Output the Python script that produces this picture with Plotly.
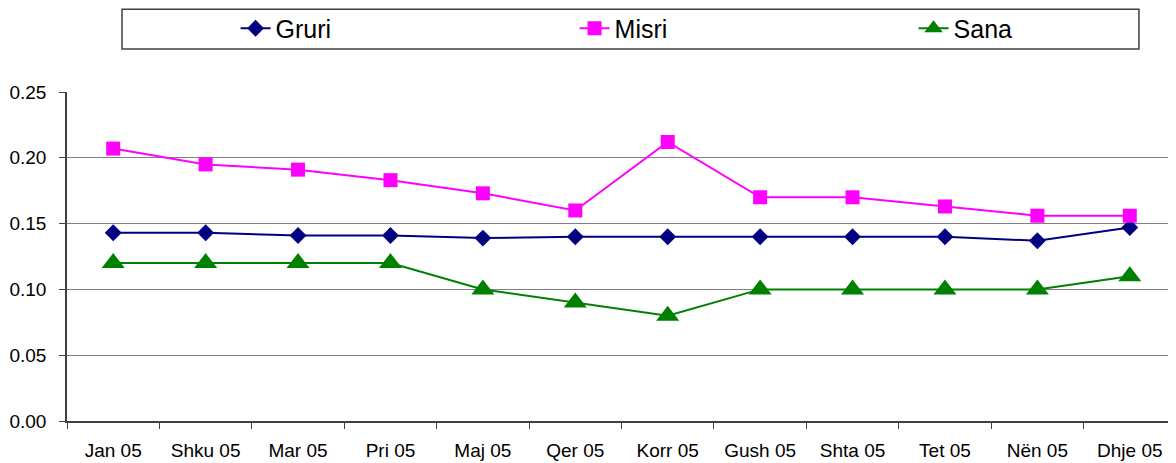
import plotly.graph_objects as go

months = ["Jan 05", "Shku 05", "Mar 05", "Pri 05", "Maj 05", "Qer 05",
          "Korr 05", "Gush 05", "Shta 05", "Tet 05", "Nën 05", "Dhje 05"]
gruri = [0.143, 0.143, 0.141, 0.141, 0.139, 0.140, 0.140, 0.140, 0.140, 0.140, 0.137, 0.147]
misri = [0.207, 0.195, 0.191, 0.183, 0.173, 0.160, 0.212, 0.170, 0.170, 0.163, 0.156, 0.156]
sana = [0.12, 0.12, 0.12, 0.12, 0.10, 0.09, 0.08, 0.10, 0.10, 0.10, 0.10, 0.11]

FONT = "Liberation Sans, Arial, sans-serif"

fig = go.Figure()
fig.add_trace(go.Scatter(
    x=months, y=gruri, name="Gruri", mode="lines+markers",
    line=dict(color="#000080", width=2),
    marker=dict(symbol="diamond", size=13, color="#000080"),
))
fig.add_trace(go.Scatter(
    x=months, y=misri, name="Misri", mode="lines+markers",
    line=dict(color="#FF00FF", width=2),
    marker=dict(symbol="square", size=14, color="#FF00FF"),
))
fig.add_trace(go.Scatter(
    x=months, y=sana, name="Sana", mode="lines+markers",
    line=dict(color="#008000", width=2),
    marker=dict(symbol="triangle-up", size=20, color="#008000"),
))

# legend frame
fig.add_shape(type="rect", xref="paper", yref="paper",
              x0=0.0496, x1=0.9666, y0=1.1307, y1=1.2515,
              line=dict(color="#404040", width=1.5), fillcolor="white", layer="below")

fig.update_layout(
    width=1176, height=463,
    margin=dict(l=59, r=8, t=84, b=50, autoexpand=False),
    paper_bgcolor="white", plot_bgcolor="white",
    font=dict(family=FONT, color="black", size=19),
    showlegend=True,
    legend=dict(
        orientation="h", x=0.152, xanchor="left", y=1.193, yanchor="middle",
        entrywidth=294, font=dict(size=25, family=FONT),
        bgcolor="rgba(0,0,0,0)",
    ),
)
fig.update_xaxes(
    type="category", range=[-0.5, len(months) - 0.5],
    showgrid=False, showline=True, linecolor="#404040", linewidth=1.5,
    ticks="outside", tickson="boundaries", ticklen=6, tickcolor="#404040",
    tickfont=dict(size=19, family=FONT), ticklabelstandoff=11, fixedrange=True,
)
fig.update_yaxes(
    range=[0, 0.25], dtick=0.05, tickformat=".2f",
    showgrid=True, gridcolor="#808080", gridwidth=1,
    showline=True, linecolor="#404040", linewidth=1.5,
    ticks="outside", ticklen=6, tickcolor="#404040",
    tickfont=dict(size=19, family=FONT), ticklabelstandoff=9, zeroline=False,
)

fig.write_html("out.html")
